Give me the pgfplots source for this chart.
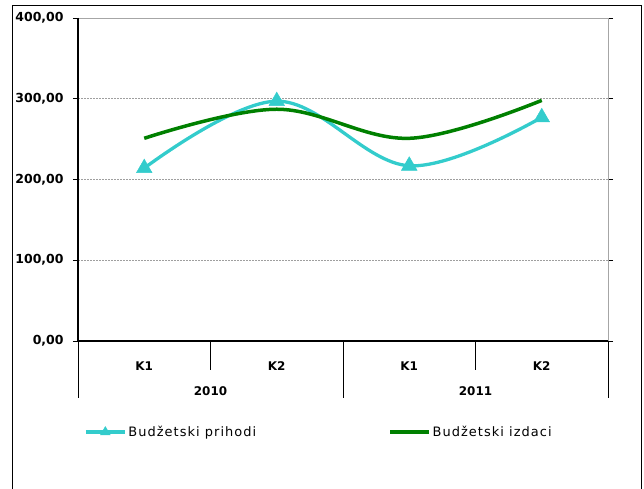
\documentclass[border=0pt]{standalone}
\usepackage{fontspec}
\setmainfont{DejaVu Sans}
\usepackage{pgfplots}
\pgfplotsset{compat=1.18}
\definecolor{turq}{HTML}{33CCCC}
\definecolor{dgreen}{HTML}{008000}
\begin{document}
\begin{tikzpicture}[x=1bp,y=1bp]
\useasboundingbox (0,0) rectangle (644,489);
\draw[black, line width=0.9bp] (12.5,-5) rectangle (641.5,484);
\begin{axis}[
  at={(78bp,148bp)}, anchor=south west,
  scale only axis, width=530bp, height=323bp,
  xmin=-0.5, xmax=3.5, ymin=0, ymax=400,
  xtick={0,1,2,3}, xticklabels={K1,K2,K1,K2},
  major x tick style={draw=none},
  x tick label style={font=\fontsize{12}{14}\selectfont\bfseries, anchor=center, yshift=-20bp},
  ytick={0,100,200,300,400},
  yticklabels={{0,00},{100,00},{200,00},{300,00},{400,00}},
  y tick label style={font=\fontsize{12.5}{14}\selectfont\bfseries, xshift=-6bp},
  tick align=outside, major tick length=5bp,
  major y tick style={black, line width=0.9bp},
  ymajorgrids, major grid style={gray!75, dash pattern=on 2bp off 1bp, line width=0.8bp},
  axis line style={gray!70, line width=0.9bp},
  clip=false,
  legend columns=2,
  legend style={draw=none, fill=none, at={(axis description cs:0,-0.282)}, anchor=west, xshift=6bp,
    font=\fontsize{13}{15}\selectfont\addfontfeature{LetterSpace=8}, inner sep=0pt,
    /tikz/every even column/.append style={column sep=130bp}},
  legend cell align=left,
  legend image code/.code={
    \draw[#1, mark size=5.5bp, mark repeat=2, mark phase=2] plot coordinates {(0bp,0bp) (19.5bp,0bp) (39bp,0bp)};
  },
]
\addplot[turq, line width=3.3bp, smooth, tension=0.6, mark=triangle*, mark size=9bp, mark options={solid, fill=turq, draw=turq, line width=0.5bp}]
  coordinates {(0,214) (1,297) (2,217) (3,277)};
\addlegendentry{Budžetski prihodi}
\addplot[dgreen, line width=3.5bp, smooth, tension=0.6, mark=none]
  coordinates {(0,251) (1,287) (2,251) (3,298)};
\addlegendentry{Budžetski izdaci}
\draw[black, line width=1.2bp] (rel axis cs:0,1) -- (rel axis cs:0,0) -- (rel axis cs:1,0);
\draw[black, line width=1bp] (axis cs:0.5,0) -- ++(0bp,-29bp);
\draw[black, line width=1bp] (axis cs:2.5,0) -- ++(0bp,-29bp);
\draw[black, line width=1bp] (axis cs:-0.5,0) -- ++(0bp,-57bp);
\draw[black, line width=1bp] (axis cs:1.5,0) -- ++(0bp,-57bp);
\draw[black, line width=1bp] (axis cs:3.5,0) -- ++(0bp,-57bp);
\node[font=\fontsize{12}{14}\selectfont\bfseries] at (axis cs:0.5,0) [yshift=-50bp] {2010};
\node[font=\fontsize{12}{14}\selectfont\bfseries] at (axis cs:2.5,0) [yshift=-50bp] {2011};
\end{axis}
\end{tikzpicture}
\end{document}
